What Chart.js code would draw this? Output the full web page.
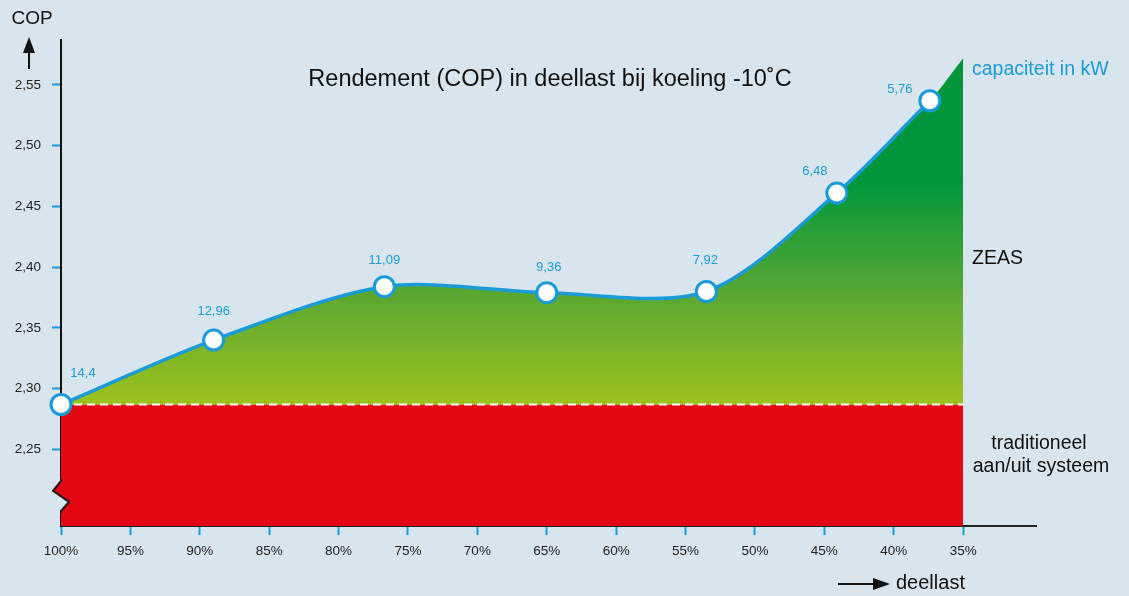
<!DOCTYPE html>
<html>
<head>
<meta charset="utf-8">
<title>Rendement (COP) in deellast</title>
<script src="https://cdn.jsdelivr.net/npm/chart.js@4"></script>
<style>
  html, body { margin: 0; padding: 0; background: #d8e5ee; }
  #wrap { position: relative; width: 1129px; height: 596px; }
</style>
</head>
<body>
<div id="wrap"><canvas id="copChart"></canvas></div>
<script>
// Data
const loadPct = [100, 89, 76.7, 65, 53.5, 44.1, 37.4];
const copValues = [2.287, 2.340, 2.384, 2.379, 2.380, 2.461, 2.537];
const capacityLabels = ['14,4', '12,96', '11,09', '9,36', '7,92', '6,48', '5,76'];
const curveEndPct = 35;
const curveEndCop = 2.572;
const baseCop = 2.287; // traditioneel aan/uit systeem
const xTicks = [100, 95, 90, 85, 80, 75, 70, 65, 60, 55, 50, 45, 40, 35];
const yTicks = [2.25, 2.30, 2.35, 2.40, 2.45, 2.50, 2.55];

const BLUE = '#1a9ad7';
const RED = '#e30613';
const BG = '#d8e5ee';
const FONT = '"Liberation Sans", Arial, sans-serif';
const TENSION = 0.3;

// label offsets (px) from each marker
const labelOffsets = [[22, -31], [0, -29], [0, -26], [2, -25], [-1, -31], [-22, -22], [-30, -11]];

const linePoints = loadPct.map((p, i) => ({ x: p, y: copValues[i] }));
const fillPoints = linePoints.concat([{ x: curveEndPct, y: curveEndCop }]);
const basePoints = [{ x: loadPct[0], y: baseCop }, { x: curveEndPct, y: baseCop }];

function greenGradient(context) {
  const chart = context.chart;
  if (!chart.chartArea) return '#6aae2c';
  const y = chart.scales.y;
  const g = chart.ctx.createLinearGradient(0, y.getPixelForValue(baseCop), 0, y.getPixelForValue(2.47));
  g.addColorStop(0, '#9dc31c');
  g.addColorStop(0.5, '#5aa733');
  g.addColorStop(1, '#00973b');
  return g;
}

// texts, arrows, labels and the axis break
const decorPlugin = {
  id: 'decor',
  afterDatasetsDraw(chart) {
    const ctx = chart.ctx;
    const xs = chart.scales.x, ys = chart.scales.y;
    const left = chart.chartArea.left;
    ctx.save();

    // axis break
    const zt = Math.round(ys.getPixelForValue(2.224));
    const zb = Math.round(ys.getPixelForValue(2.199));
    const zh = zb - zt;
    ctx.fillStyle = BG;
    ctx.fillRect(left - 12, zt - 1, 26, zh + 2);
    ctx.fillStyle = RED;
    ctx.beginPath();
    ctx.moveTo(left, zt - 1);
    ctx.lineTo(left - 8, zt + zh * 0.33);
    ctx.lineTo(left + 8, zt + zh * 0.70);
    ctx.lineTo(left, zb + 1);
    ctx.lineTo(left + 14, zb + 1);
    ctx.lineTo(left + 14, zt - 1);
    ctx.closePath();
    ctx.fill();
    ctx.strokeStyle = '#1a1a1a';
    ctx.lineWidth = 2;
    ctx.lineJoin = 'miter';
    ctx.beginPath();
    ctx.moveTo(left, zt - 2);
    ctx.lineTo(left, zt);
    ctx.lineTo(left - 8, zt + zh * 0.33);
    ctx.lineTo(left + 8, zt + zh * 0.70);
    ctx.lineTo(left, zb);
    ctx.lineTo(left, zb + 2);
    ctx.stroke();

    // capacity labels
    ctx.fillStyle = BLUE;
    ctx.font = '13px ' + FONT;
    ctx.textAlign = 'center';
    ctx.textBaseline = 'middle';
    capacityLabels.forEach((t, i) => {
      const px = xs.getPixelForValue(loadPct[i]) + labelOffsets[i][0];
      const py = ys.getPixelForValue(copValues[i]) + labelOffsets[i][1];
      ctx.fillText(t, px, py);
    });

    // title
    ctx.fillStyle = '#111';
    ctx.font = '23.5px ' + FONT;
    ctx.fillText('Rendement (COP) in deellast bij koeling -10˚C', 550, 80);

    ctx.font = '19.5px ' + FONT;
    ctx.textAlign = 'left';
    ctx.fillText('ZEAS', 972, 259);
    ctx.fillStyle = BLUE;
    ctx.fillText('capaciteit in kW', 972, 70);
    ctx.fillStyle = '#111';
    ctx.textAlign = 'center';
    ctx.fillText('traditioneel', 1039, 444);
    ctx.fillText('aan/uit systeem', 1041, 467);
    ctx.font = '19px ' + FONT;
    ctx.fillText('COP', 32, 19);
    ctx.font = '20px ' + FONT;
    ctx.textAlign = 'left';
    ctx.fillText('deellast', 896, 583);

    // arrows
    ctx.strokeStyle = '#111';
    ctx.fillStyle = '#111';
    ctx.lineWidth = 2;
    ctx.beginPath();
    ctx.moveTo(29, 69); ctx.lineTo(29, 48);
    ctx.stroke();
    ctx.beginPath();
    ctx.moveTo(29, 37); ctx.lineTo(35, 53); ctx.lineTo(23, 53);
    ctx.closePath(); ctx.fill();
    ctx.beginPath();
    ctx.moveTo(838, 584); ctx.lineTo(874, 584);
    ctx.stroke();
    ctx.beginPath();
    ctx.moveTo(890, 584); ctx.lineTo(873, 578); ctx.lineTo(873, 590);
    ctx.closePath(); ctx.fill();

    ctx.restore();
  }
};

new Chart(document.getElementById('copChart'), {
  type: 'line',
  data: {
    datasets: [
      {
        label: 'capaciteit in kW',
        data: linePoints,
        borderColor: BLUE,
        borderWidth: 3.5,
        tension: TENSION,
        fill: false,
        pointRadius: 10,
        pointBorderWidth: 3,
        pointBackgroundColor: '#ffffff',
        pointBorderColor: BLUE,
        clip: false
      },
      {
        label: 'ZEAS',
        data: fillPoints,
        borderWidth: 0,
        borderColor: 'rgba(0,0,0,0)',
        tension: TENSION,
        fill: 2,
        backgroundColor: greenGradient,
        pointRadius: 0
      },
      {
        label: 'traditioneel aan/uit systeem',
        data: basePoints,
        borderColor: '#ffffff',
        borderWidth: 2,
        borderDash: [8, 5],
        fill: 'start',
        backgroundColor: RED,
        pointRadius: 0
      }
    ]
  },
  options: {
    responsive: true,
    maintainAspectRatio: false,
    animation: false,
    layout: { padding: { top: 40, right: 93, bottom: 30, left: 0 } },
    plugins: {
      legend: { display: false },
      tooltip: { enabled: false },
      filler: { drawTime: 'beforeDatasetsDraw' }
    },
    scales: {
      x: {
        type: 'linear',
        reverse: true,
        min: 29.75,
        max: 100,
        afterBuildTicks: s => { s.ticks = xTicks.map(v => ({ value: v })); },
        afterFit: s => { s.height = 40; },
        ticks: {
          color: '#222',
          font: { family: FONT, size: 13.5 },
          padding: 8,
          maxRotation: 0,
          autoSkip: false,
          callback: v => v + '%'
        },
        grid: { drawOnChartArea: false, tickLength: 9, tickColor: BLUE, tickWidth: 2 },
        border: { color: '#222', width: 2 }
      },
      y: {
        min: 2.187,
        max: 2.587,
        afterBuildTicks: s => { s.ticks = yTicks.map(v => ({ value: v })); },
        afterFit: s => { s.width = 61; },
        ticks: {
          color: '#222',
          font: { family: FONT, size: 13.5 },
          padding: 11,
          callback: v => v.toFixed(2).replace('.', ',')
        },
        grid: { drawOnChartArea: false, tickLength: 9, tickColor: BLUE, tickWidth: 2 },
        border: { color: '#111', width: 2 }
      }
    }
  },
  plugins: [decorPlugin]
});
</script>
</body>
</html>
